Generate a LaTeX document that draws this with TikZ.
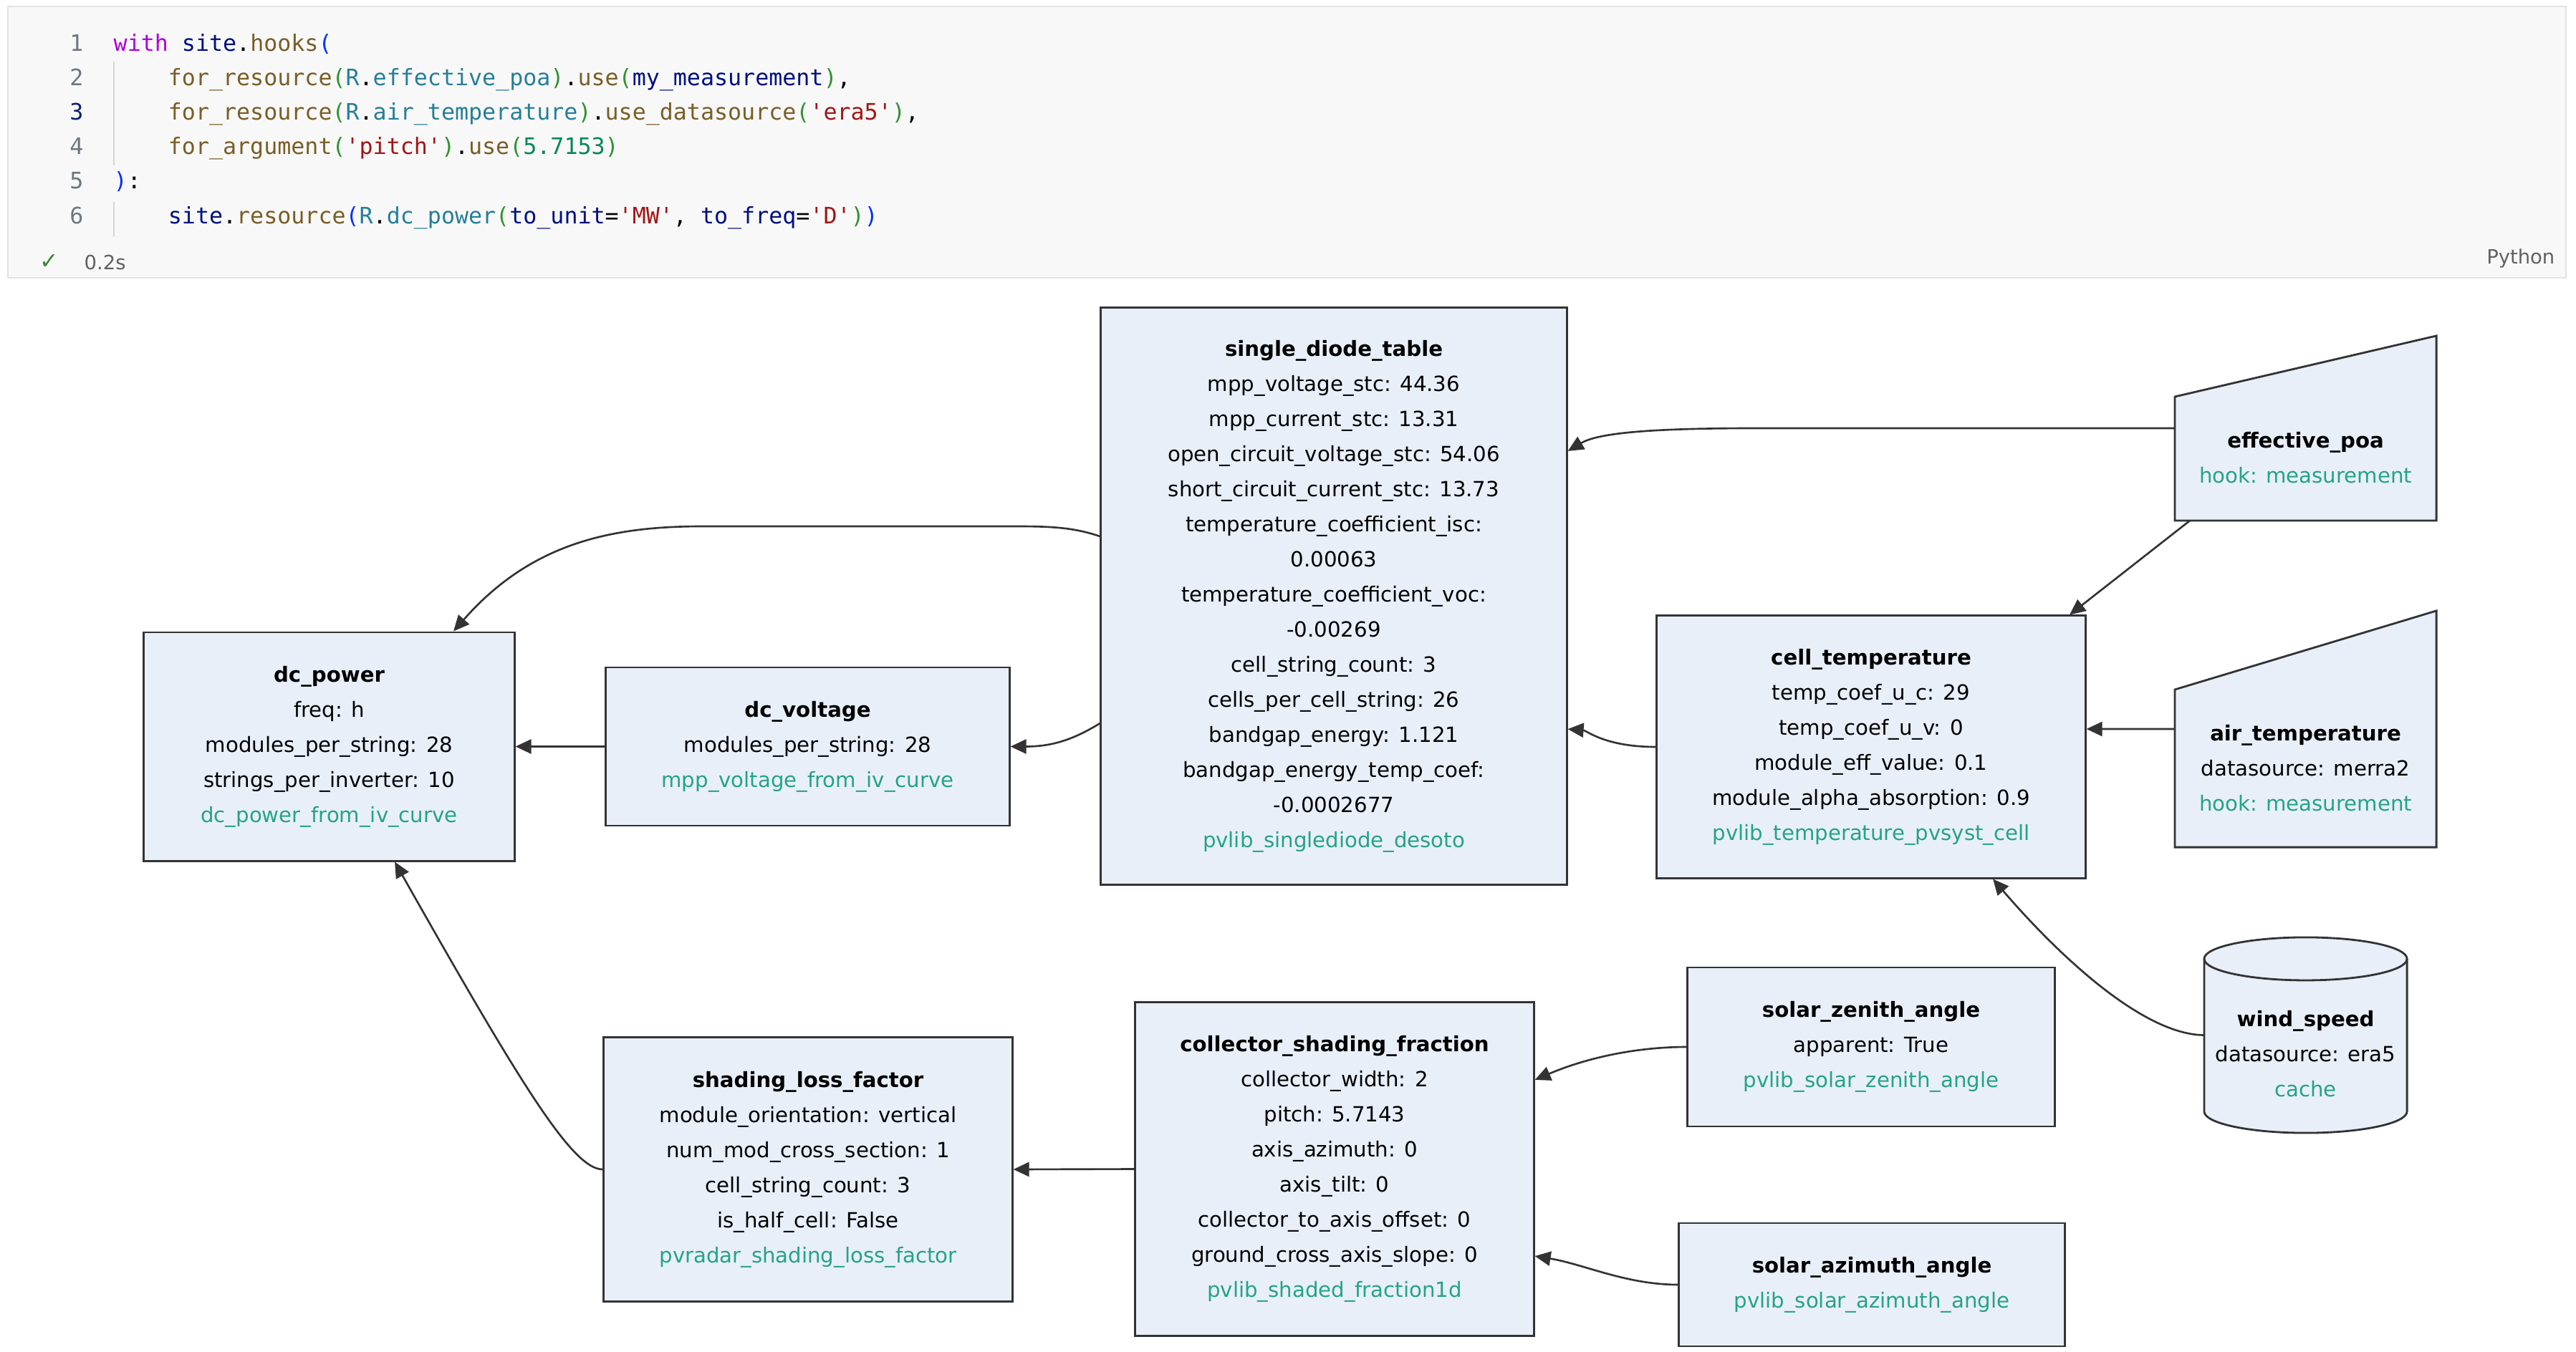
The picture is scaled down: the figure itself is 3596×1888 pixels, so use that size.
\documentclass[tikz,border=0pt]{standalone}
\usepackage{fontspec}
\setmainfont{DejaVu Sans}
\newfontfamily\codefont[Ligatures=TeXOff]{DejaVu Sans Mono}
\usetikzlibrary{arrows.meta,calc}
\definecolor{nf}{HTML}{E8EFF9}
\definecolor{bd}{HTML}{333333}
\definecolor{gr}{HTML}{25A386}
\definecolor{codebg}{HTML}{F8F8F8}
\definecolor{codebd}{HTML}{E3E3E3}
\definecolor{guide}{HTML}{D4D4D4}
\definecolor{kw}{HTML}{AF00DB}
\definecolor{vr}{HTML}{001080}
\definecolor{fn}{HTML}{795E26}
\definecolor{bA}{HTML}{0431FA}
\definecolor{bB}{HTML}{319331}
\definecolor{cl}{HTML}{267F99}
\definecolor{st}{HTML}{A31515}
\definecolor{nm}{HTML}{098658}
\definecolor{lnum}{HTML}{6E7681}
\definecolor{lnact}{HTML}{0B216F}
\definecolor{meta}{HTML}{616161}
\definecolor{okc}{HTML}{388A34}
\newcommand\codesz{\fontsize{9.0}{10}\codefont}
\newcommand\nodesz{\fontsize{8.3}{13.94}\selectfont}
\newcommand\ind{\hphantom{xxxx}}
\begin{document}
\begin{tikzpicture}[x=0.01cm,y=-0.01cm,
  box/.style={draw=bd, fill=nf, line width=0.8pt, align=center, font=\nodesz, inner sep=0pt},
  ghost/.style={inner sep=0pt, outer sep=0pt},
  shapeline/.style={draw=bd, fill=nf, line width=0.8pt},
  txt/.style={align=center, font=\nodesz, inner sep=0pt},
  edge/.style={draw=bd, line width=0.75pt, -{Triangle[length=0.22cm,width=0.2cm]}},
  codeln/.style={anchor=west, inner sep=0pt, text height=6.8pt, text depth=2.2pt, font=\codesz},
  lnno/.style={anchor=center, inner sep=0pt, text height=6.8pt, text depth=2.2pt, font=\codesz},
  metatxt/.style={inner sep=0pt, font=\fontsize{7.8}{9}\selectfont, text=meta}
]
\useasboundingbox (0,0) rectangle (3596,1888);
\fill[white] (0,0) rectangle (3596,1888);

% ---------- code cell ----------
\draw[fill=codebg, draw=codebd, line width=0.4pt] (11,9) rectangle (3582,388);
\draw[guide, line width=0.4pt] (159,86) -- (159,231);
\draw[guide, line width=0.4pt] (159,282) -- (159,330);

\node[lnno, text=lnum]  (n1) at (107,63)    {1};
\node[lnno, text=lnum]  (n2) at (107,111.2) {2};
\node[lnno, text=lnact] (n3) at (107,159.4) {3};
\node[lnno, text=lnum]  (n4) at (107,207.6) {4};
\node[lnno, text=lnum]  (n5) at (107,255.8) {5};
\node[lnno, text=lnum]  (n6) at (107,304)   {6};

\node[codeln] (c1) at (158,63) {{\color{kw}with} {\color{vr}site}.{\color{fn}hooks}{\color{bA}(}};
\node[codeln] (c2) at (158,111.2) {\ind{\color{fn}for\_resource}{\color{bB}(}{\color{cl}R}.{\color{cl}effective\_poa}{\color{bB})}.{\color{fn}use}{\color{bB}(}{\color{vr}my\_measurement}{\color{bB})},};
\node[codeln] (c3) at (158,159.4) {\ind{\color{fn}for\_resource}{\color{bB}(}{\color{cl}R}.{\color{cl}air\_temperature}{\color{bB})}.{\color{fn}use\_datasource}{\color{bB}(}{\color{st}'era5'}{\color{bB})},};
\node[codeln] (c4) at (158,207.6) {\ind{\color{fn}for\_argument}{\color{bB}(}{\color{st}'pitch'}{\color{bB})}.{\color{fn}use}{\color{bB}(}{\color{nm}5.7153}{\color{bB})}};
\node[codeln] (c5) at (158,255.8) {{\color{bA})}:};
\node[codeln] (c6) at (158,304) {\ind{\color{vr}site}.{\color{fn}resource}{\color{bA}(}{\color{cl}R}.{\color{cl}dc\_power}{\color{bB}(}{\color{vr}to\_unit}={\color{st}'MW'}, {\color{vr}to\_freq}={\color{st}'D'}{\color{bB})}{\color{bA})}};

\node[inner sep=0pt, font=\fontsize{9}{10}\selectfont, text=okc] (ok) at (69,366) {✓};
\node[metatxt, anchor=west] (tm) at (117,367) {0.2s};
\node[metatxt, anchor=east] (py) at (3567,361) {Python};

% ---------- diagram nodes ----------
\node[box, minimum width=6.50cm, minimum height=8.05cm] (sdt) at (1862,832.5) {\textbf{single\_diode\_table}\\
mpp\_voltage\_stc: 44.36\\
mpp\_current\_stc: 13.31\\
open\_circuit\_voltage\_stc: 54.06\\
short\_circuit\_current\_stc: 13.73\\
temperature\_coefficient\_isc:\\
0.00063\\
temperature\_coefficient\_voc:\\
-0.00269\\
cell\_string\_count: 3\\
cells\_per\_cell\_string: 26\\
bandgap\_energy: 1.121\\
bandgap\_energy\_temp\_coef:\\
-0.0002677\\
\textcolor{gr}{pvlib\_singlediode\_desoto}};

\node[box, minimum width=5.17cm, minimum height=3.19cm] (dcp) at (459.5,1042.5) {\textbf{dc\_power}\\
freq: h\\
modules\_per\_string: 28\\
strings\_per\_inverter: 10\\
\textcolor{gr}{dc\_power\_from\_iv\_curve}};

\node[box, minimum width=5.63cm, minimum height=2.21cm] (dcv) at (1127.5,1042.5) {\textbf{dc\_voltage}\\
modules\_per\_string: 28\\
\textcolor{gr}{mpp\_voltage\_from\_iv\_curve}};

\node[box, minimum width=5.98cm, minimum height=3.66cm] (ct) at (2612,1043) {\textbf{cell\_temperature}\\
temp\_coef\_u\_c: 29\\
temp\_coef\_u\_v: 0\\
module\_eff\_value: 0.1\\
module\_alpha\_absorption: 0.9\\
\textcolor{gr}{pvlib\_temperature\_pvsyst\_cell}};

\node[box, minimum width=5.12cm, minimum height=2.22cm] (sza) at (2612,1462) {\textbf{solar\_zenith\_angle}\\
apparent: True\\
\textcolor{gr}{pvlib\_solar\_zenith\_angle}};

\node[box, minimum width=5.38cm, minimum height=1.72cm] (saa) at (2613,1794) {\textbf{solar\_azimuth\_angle}\\
\textcolor{gr}{pvlib\_solar\_azimuth\_angle}};

\node[box, minimum width=5.56cm, minimum height=4.65cm] (csf) at (1863,1632.5) {\textbf{collector\_shading\_fraction}\\
collector\_width: 2\\
pitch: 5.7143\\
axis\_azimuth: 0\\
axis\_tilt: 0\\
collector\_to\_axis\_offset: 0\\
ground\_cross\_axis\_slope: 0\\
\textcolor{gr}{pvlib\_shaded\_fraction1d}};

\node[box, minimum width=5.70cm, minimum height=3.68cm] (slf) at (1128,1633) {\textbf{shading\_loss\_factor}\\
module\_orientation: vertical\\
num\_mod\_cross\_section: 1\\
cell\_string\_count: 3\\
is\_half\_cell: False\\
\textcolor{gr}{pvradar\_shading\_loss\_factor}};

% effective_poa (manual input shape)
\node[ghost, minimum width=3.65cm, minimum height=2.58cm] (epoa) at (3218.5,598) {};
\draw[shapeline] (epoa.south west) -- (epoa.south east) -- (epoa.north east) -- ([yshift=-0.85cm]epoa.north west) -- cycle;
\node[txt] (epoatext) at (3218.5,639.5) {\textbf{effective\_poa}\\ \textcolor{gr}{hook: measurement}};

% air_temperature (manual input shape)
\node[ghost, minimum width=3.65cm, minimum height=3.30cm] (air) at (3218.5,1018) {};
\draw[shapeline] (air.south west) -- (air.south east) -- (air.north east) -- ([yshift=-1.10cm]air.north west) -- cycle;
\node[txt] (airtext) at (3218.5,1072.5) {\textbf{air\_temperature}\\ datasource: merra2\\ \textcolor{gr}{hook: measurement}};

% wind_speed (cylinder)
\node[ghost, minimum width=2.83cm, minimum height=2.73cm] (ws) at (3218.5,1445.5) {};
\draw[shapeline] ([yshift=-0.3cm]ws.north west) -- ([yshift=0.3cm]ws.south west)
  arc[start angle=180, end angle=360, x radius=1.415cm, y radius=0.3cm]
  -- ([yshift=-0.3cm]ws.north east)
  arc[start angle=0, end angle=180, x radius=1.415cm, y radius=0.3cm] -- cycle;
\draw[bd, line width=0.8pt] ([yshift=-0.3cm]ws.north west) arc[start angle=180, end angle=360, x radius=1.415cm, y radius=0.3cm];
\node[txt] (wstext) at (3218.5,1471.5) {\textbf{wind\_speed}\\ datasource: era5\\ \textcolor{gr}{cache}};

% ---------- connectors ----------
\draw[edge] ([yshift=0.835cm]sdt.west) .. controls (1500,737) and (1470,735) .. (1420,735) -- (980,735) .. controls (850,735) and (740,760) .. ([xshift=1.735cm]dcp.north);
\draw[edge] ([yshift=-1.775cm]sdt.west) .. controls (1495,1035) and (1465,1042.5) .. (dcv.east);
\draw[edge] (dcv.west) -- (dcp.east);
\draw[edge] (epoa.west) -- (2450,598) .. controls (2300,598) and (2230,605) .. ([yshift=2.025cm]sdt.east);
\draw[edge] ([xshift=-1.615cm]epoa.south) -- ([xshift=2.77cm]ct.north);
\draw[edge] (air.west) -- ([yshift=0.25cm]ct.east);
\draw[edge] (ct.west) .. controls (2240,1043) and (2215,1020) .. ([yshift=-1.855cm]sdt.east);
\draw[edge] (ws.west) .. controls (2990,1445) and (2870,1330) .. ([xshift=1.70cm]ct.south);
\draw[edge] (sza.west) .. controls (2290,1462) and (2220,1475) .. ([yshift=1.245cm]csf.east);
\draw[edge] (saa.west) .. controls (2270,1794) and (2210,1765) .. ([yshift=-1.215cm]csf.east);
\draw[edge] (csf.west) -- (slf.east);
\draw[edge] (slf.west) .. controls (800,1633) and (730,1520) .. ([xshift=0.915cm]dcp.south);
\end{tikzpicture}
\end{document}
